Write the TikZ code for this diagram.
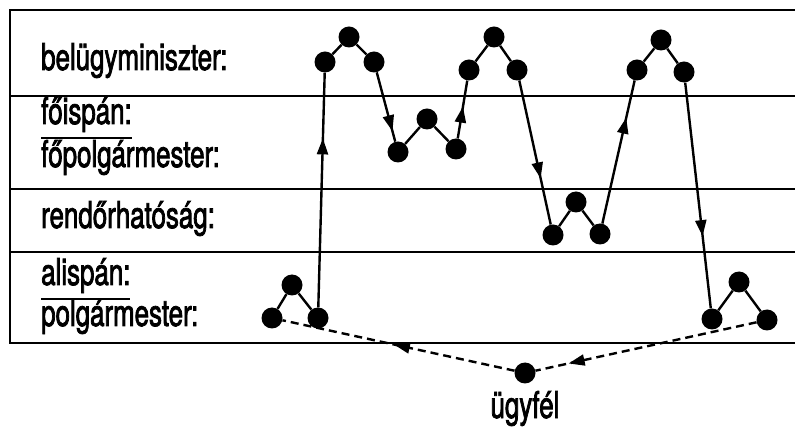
\documentclass[tikz,border=0pt]{standalone}
\usepackage{fontspec}
\newfontfamily\labfont[FakeStretch=0.70,FakeBold=2]{TeX Gyre Heros}
\usetikzlibrary{arrows.meta,decorations.markings}
\newcommand\ulabel[1]{\setbox0=\hbox{#1}\leavevmode\rlap{\rule[-15pt]{\wd0}{2.2pt}}\box0}
\begin{document}
\begin{tikzpicture}[x=1pt,y=-1pt,
  dot/.style={circle,fill=black,inner sep=0pt,minimum size=21pt},
  frameline/.style={line width=2.2pt},
  conn/.style={line width=2.4pt},
  dconn/.style={line width=2.4pt,dash pattern=on 8pt off 5pt},
  labtext/.style={font=\labfont\fontsize{37}{40}\selectfont,inner sep=0pt},
  lab/.style={labtext,anchor=base west},
  midarrow/.style={postaction={decorate},decoration={markings,
     mark=at position #1 with {\arrow{Triangle[length=16pt,width=11pt]}}}}
]
\useasboundingbox (0,0) rectangle (795,427);
% frame
\draw[frameline] (795,10) -- (10,10) -- (10,343) -- (795,343);
\draw[frameline] (10,96) -- (795,96);
\draw[frameline] (10,189) -- (795,189);
\draw[frameline] (10,252) -- (795,252);
% labels
\node[lab] (l1) at (41,70) {belügyminiszter:};
\node[lab] (l2) at (41,124) {\ulabel{főispán:}};
\node[lab] (l3) at (41,167) {főpolgármester:};
\node[lab] (l4) at (41,228) {rendőrhatóság:};
\node[lab] (l5) at (41,285) {\ulabel{alispán:}};
\node[lab] (l6) at (41,326) {polgármester:};
% dots
\node[dot] (a1) at (272,318) {};
\node[dot] (a2) at (292,285) {};
\node[dot] (a3) at (318,318) {};
\node[dot] (b1) at (325,62) {};
\node[dot] (b2) at (349,37) {};
\node[dot] (b3) at (374,62) {};
\node[dot] (c1) at (398,152) {};
\node[dot] (c2) at (427,119) {};
\node[dot] (c3) at (456,149) {};
\node[dot] (d1) at (469,70) {};
\node[dot] (d2) at (494,37) {};
\node[dot] (d3) at (517,70) {};
\node[dot] (e1) at (553,235) {};
\node[dot] (e2) at (576,202) {};
\node[dot] (e3) at (600,234) {};
\node[dot] (f1) at (637,70) {};
\node[dot] (f2) at (661,40) {};
\node[dot] (f3) at (684,72) {};
\node[dot] (g1) at (712,319) {};
\node[dot] (g2) at (739,282) {};
\node[dot] (g3) at (767,320) {};
\node[dot] (u) at (525,373) {};
\node[labtext,anchor=base] (ul) at (525,418) {ügyfél};
% group lines
\draw[conn] (a1) -- (a2) -- (a3);
\draw[conn] (b1) -- (b2) -- (b3);
\draw[conn] (c1) -- (c2) -- (c3);
\draw[conn] (d1) -- (d2) -- (d3);
\draw[conn] (e1) -- (e2) -- (e3);
\draw[conn] (f1) -- (f2) -- (f3);
\draw[conn] (g1) -- (g2) -- (g3);
% transitions
\draw[conn,midarrow=0.72] (a3) -- (b1);
\draw[conn,midarrow=0.85] (b3) -- (c1);
\draw[conn,midarrow=0.55] (c3) -- (d1);
\draw[conn,midarrow=0.68] (d3) -- (e1);
\draw[conn,midarrow=0.74] (e3) -- (f1);
\draw[conn,midarrow=0.68] (f3) -- (g1);
% dashed
\draw[dconn,midarrow=0.85] (g3) -- (u);
\draw[dconn,midarrow=0.52] (u) -- (a1);
\end{tikzpicture}
\end{document}
